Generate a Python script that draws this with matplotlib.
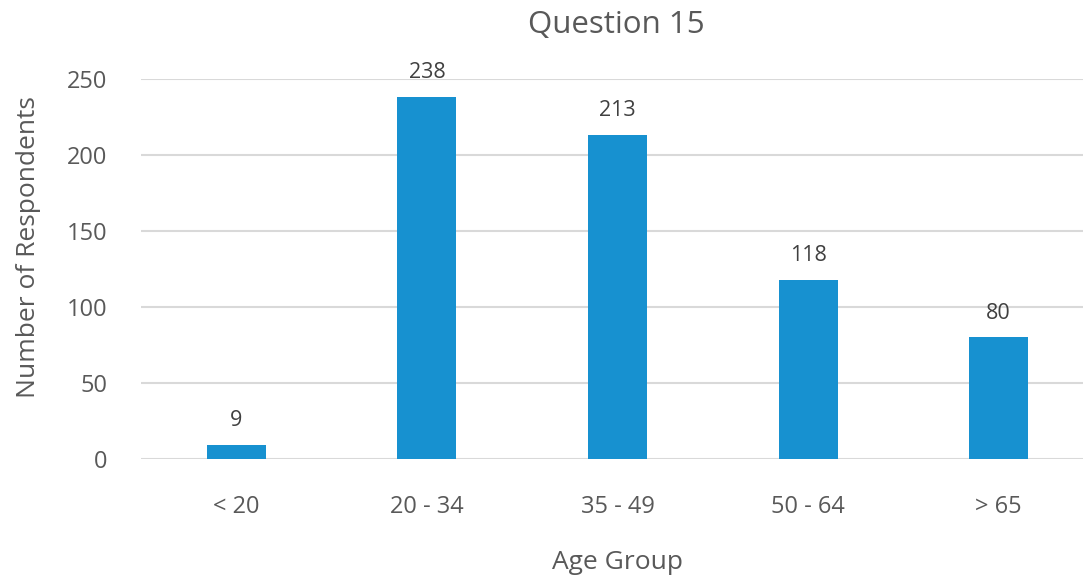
import matplotlib
matplotlib.use("Agg")
import matplotlib.pyplot as plt

age_groups = ["< 20", "20 - 34", "35 - 49", "50 - 64", "> 65"]
respondents = [9, 238, 213, 118, 80]
y_ticks = [0, 50, 100, 150, 200, 250]

plt.rcParams["font.family"] = ["Open Sans", "DejaVu Sans"]
text_color = "#595959"
bar_color = "#1791D0"
grid_color = "#D9D9D9"

fig = plt.figure(figsize=(10.83, 5.78), dpi=100)
ax = fig.add_axes([141 / 1083, 1 - 459 / 578, (1094 - 141) / 1083, (459 - 79) / 578])

x = list(range(len(age_groups)))
bars = ax.bar(x, respondents, width=0.31, color=bar_color, zorder=3)

for xi, v in zip(x, respondents):
    ax.annotate(str(v), (xi, v), xytext=(0, 10), textcoords="offset points",
                ha="center", va="bottom", fontsize=15.5, color="#404040")

ax.set_xlim(-0.5, len(age_groups) - 0.5)
ax.set_ylim(0, 250)
ax.set_yticks(y_ticks)
ax.set_xticks(x)
ax.set_xticklabels(age_groups)
ax.tick_params(axis="both", length=0, labelsize=17, colors=text_color)
ax.tick_params(axis="x", pad=26)
ax.tick_params(axis="y", pad=24)
ax.grid(axis="y", color=grid_color, linewidth=1.5, zorder=0)
for s in ax.spines.values():
    s.set_visible(False)

ax.set_xlabel("Age Group", fontsize=19, color=text_color, labelpad=22)
ax.set_ylabel("Number of Respondents", fontsize=19, color=text_color)
ax.yaxis.set_label_coords(-0.105, 0.558)
fig.text(616 / 1083, 1 - 25 / 578, "Question 15", ha="center", va="center",
         fontsize=22.5, color=text_color)

fig.savefig("out.png", dpi=100)
